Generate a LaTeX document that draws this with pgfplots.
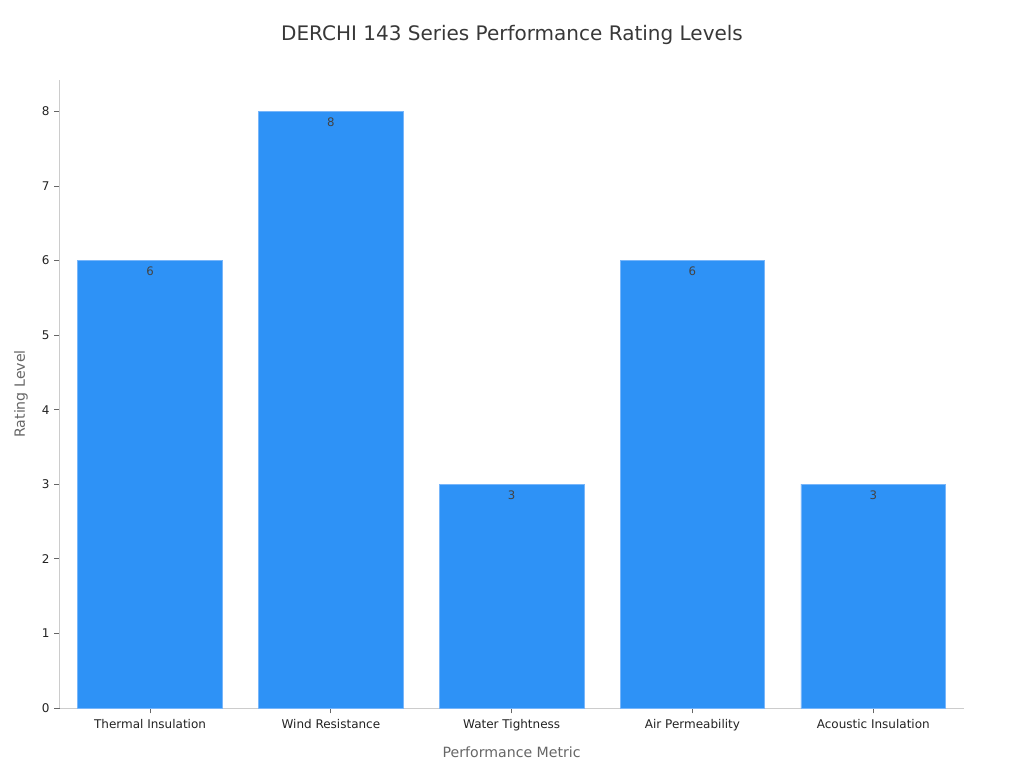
\documentclass[border=0pt]{standalone}
\usepackage{pgfplots}
\pgfplotsset{compat=1.18}
\usepackage{fontspec}
\setmainfont{DejaVu Sans}
\definecolor{barblue}{RGB}{46,146,246}
\definecolor{baredge}{RGB}{120,182,250}
\definecolor{axgray}{RGB}{204,204,204}
\definecolor{txt}{RGB}{34,34,34}
\definecolor{lbl}{RGB}{102,102,102}
\begin{document}
\begin{tikzpicture}[x=1pt,y=1pt]
\useasboundingbox (0,0) rectangle (768,576);
\node[font=\fontsize{15}{18}\selectfont, text=txt!90] at (384,549.5) {DERCHI 143 Series Performance Rating Levels};
\begin{axis}[
  at={(44.75pt,45pt)}, anchor=south west,
  scale only axis, width=678pt, height=471pt,
  xmin=-0.5, xmax=4.5, ymin=0, ymax=8.42,
  axis x line*=bottom, axis y line*=left,
  axis line style={axgray, line width=0.6pt},
  xtick={0,1,2,3,4},
  xticklabels={Thermal Insulation, Wind Resistance, Water Tightness, Air Permeability, Acoustic Insulation},
  ytick={0,1,2,3,4,5,6,7,8},
  tick style={lbl, line width=0.6pt},
  tick align=outside, major tick length=4pt,
  ticklabel style={font=\fontsize{9}{11}\selectfont, text=txt},
  /pgf/number format/assume math mode=true,
  xticklabel style={yshift=-1pt},
  xlabel={Performance Metric}, ylabel={Rating Level},
  label style={font=\fontsize{10.6}{13}\selectfont, text=lbl},
  xlabel style={at={(axis description cs:0.5,0)}, anchor=center, yshift=-33.5pt},
  ylabel style={at={(axis description cs:0,0.5)}, anchor=center, yshift=29pt},
  ybar, bar width=0.8, bar shift=0pt,
  nodes near coords,
  every node near coord/.append style={anchor=north, yshift=-1pt, font=\fontsize{8.8}{10}\selectfont, text=txt!85},
  clip=false,
]
\addplot[fill=barblue, draw=baredge, line width=0.5pt] coordinates {(0,6) (1,8) (2,3) (3,6) (4,3)};
\end{axis}
\end{tikzpicture}
\end{document}
